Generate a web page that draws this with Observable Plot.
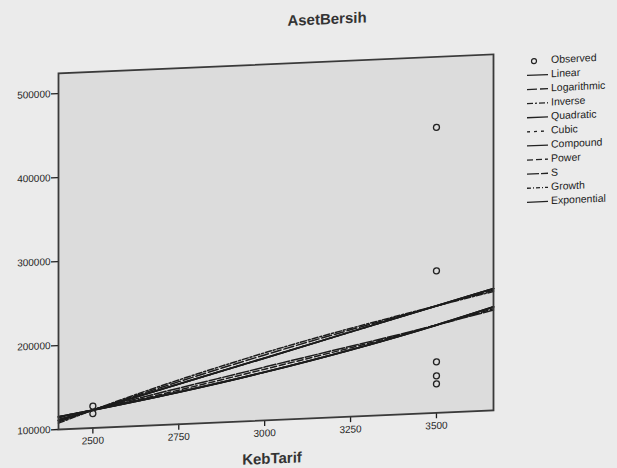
<!DOCTYPE html>
<html><head><meta charset="utf-8">
<script src="https://cdn.jsdelivr.net/npm/d3@7"></script>
<script src="https://cdn.jsdelivr.net/npm/@observablehq/plot@0.6"></script>
<style>
html,body{margin:0;padding:0;background:#ebebeb;overflow:hidden;}
#chart{width:617px;height:468px;transform:skewY(-2.52deg);transform-origin:58px 0;}
#chart svg{overflow:visible;}
</style></head><body><div id="chart"></div>
<script>
// Observed data
const obsKebTarif = [2500, 2500, 3500, 3500, 3500, 3500, 3500];
const obsAsetBersih = [126000, 117000, 440000, 269000, 160700, 144000, 134500];

// Fitted curves at these KebTarif values
const fitKebTarif = [2400, 2500, 3000, 3500, 3666];
const linear      = [110700, 121300, 174300, 227400, 245000];
const logarithmic = [109000, 121300, 178000, 227400, 243000];
const inverse     = [107500, 121300, 180500, 227400, 241500];
const quadratic   = [110700, 121300, 174300, 227400, 245000];
const cubic       = [110700, 121300, 174300, 227400, 245000];
const compound    = [115100, 121300, 157500, 204600, 223200];
const power       = [114000, 121300, 161000, 204600, 221000];
const sCurve      = [112000, 121300, 163500, 204600, 219500];
const growth      = [115100, 121300, 157500, 204600, 223200];
const exponential = [115100, 121300, 157500, 204600, 223200];

const modelNames = ["Linear","Logarithmic","Inverse","Quadratic","Cubic","Compound","Power","S","Growth","Exponential"];
const modelValues = [linear, logarithmic, inverse, quadratic, cubic, compound, power, sCurve, growth, exponential];

const xTicks = [2500, 2750, 3000, 3250, 3500];
const yTicks = [100000, 200000, 300000, 400000, 500000];

// styles
const dashes = {
  "Linear": null, "Logarithmic": "10,3", "Inverse": "6,2,2,2", "Quadratic": null,
  "Cubic": "3,4", "Compound": null, "Power": "6,3", "S": "12,2",
  "Growth": "4,2,1,2", "Exponential": null
};

const observed = obsKebTarif.map((x, i) => ({x, y: obsAsetBersih[i]}));
const fits = modelNames.flatMap((m, i) => fitKebTarif.map((x, j) => ({model: m, x, y: modelValues[i][j]})));

const lineMarks = modelNames.map(m => Plot.line(fits.filter(d => d.model === m), {
  x: "x", y: "y", curve: "monotone-x", stroke: "#1c1c1c",
  strokeWidth: dashes[m] ? 1.5 : 1.8, strokeDasharray: dashes[m] || undefined
}));

const plot = Plot.plot({
  width: 617, height: 468,
  marginLeft: 58, marginRight: 124, marginTop: 73, marginBottom: 39,
  style: {fontFamily: "Liberation Sans, Arial, sans-serif", fontSize: "10px", color: "#1e1e1e", background: "transparent", overflow: "visible"},
  x: {domain: [2400, 3666]},
  y: {domain: [100000, 524000]},
  marks: [
    Plot.frame({fill: "#dcdcdc", stroke: "none"}),
    Plot.axisX({ticks: xTicks, tickSize: 6, tickPadding: 3, label: null, tickFormat: d => String(d), strokeWidth: 1.3}),
    Plot.axisY({ticks: yTicks, tickSize: 7, tickPadding: 1, label: null, tickFormat: d => String(d), strokeWidth: 1.3}),
    ...lineMarks,
    Plot.dot(observed, {x: "x", y: "y", r: 3, stroke: "#222", strokeWidth: 1.3, fill: "none"}),
    Plot.frame({stroke: "#3a3a3a", strokeWidth: 1.8})
  ]
});

const svg = d3.select(plot);
svg.append("text").attr("x", 327).attr("y", 32).attr("text-anchor", "middle")
  .attr("dominant-baseline", "middle").attr("font-size", 15).attr("font-weight", "bold")
  .attr("fill", "#333").text("AsetBersih");
svg.append("text").attr("x", 272).attr("y", 469).attr("text-anchor", "middle")
  .attr("dominant-baseline", "middle").attr("font-size", 15).attr("font-weight", "bold")
  .attr("fill", "#333").text("KebTarif");

const legend = svg.append("g").attr("font-size", 10.5).attr("fill", "#222").attr("text-anchor", "start");
const legendItems = ["Observed", ...modelNames];
legendItems.forEach((name, i) => {
  const y = 82 + i * 14.1;
  if (name === "Observed") {
    legend.append("circle").attr("cx", 534).attr("cy", y).attr("r", 2.5)
      .attr("fill", "none").attr("stroke", "#222").attr("stroke-width", 1.2);
  } else {
    legend.append("line").attr("x1", 527).attr("x2", 548).attr("y1", y).attr("y2", y)
      .attr("stroke", "#222").attr("stroke-width", 1.3)
      .attr("stroke-dasharray", dashes[name] || null);
  }
  legend.append("text").attr("x", 551).attr("y", y).attr("text-anchor", "start")
    .attr("dominant-baseline", "middle").text(name);
});

document.getElementById("chart").appendChild(plot);
</script>
</body></html>
